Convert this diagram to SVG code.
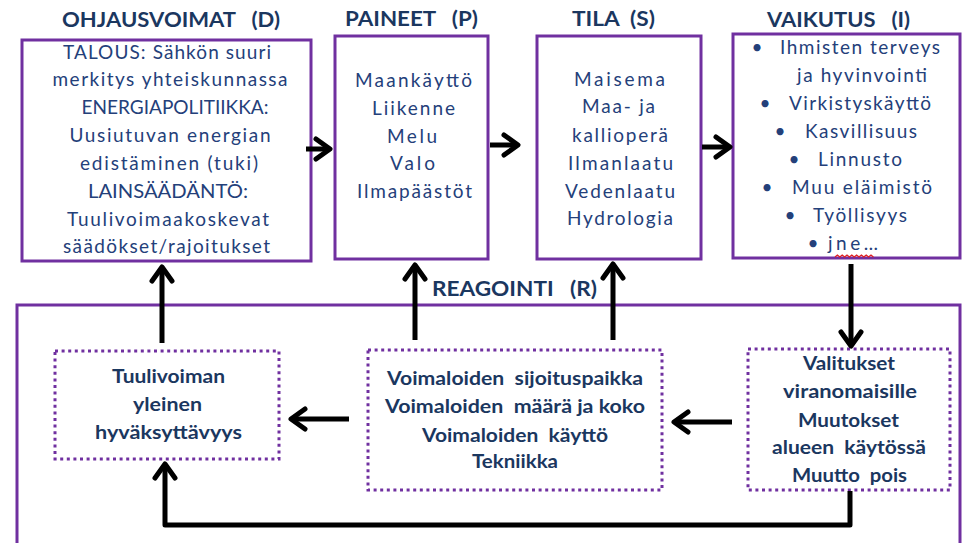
<svg xmlns="http://www.w3.org/2000/svg" width="963" height="543" viewBox="0 0 963 543">
<style>
.box{fill:#fff;stroke:#7030a0;stroke-width:3}
.dot{fill:none;stroke:#7030a0;stroke-width:3;stroke-dasharray:3 3.6}
.t{font-family:Lato,"Liberation Sans",sans-serif;font-size:19px;fill:#24407a;text-anchor:middle}
.s{text-anchor:start}
.ti{font-family:Lato,"Liberation Sans",sans-serif;font-size:21px;font-weight:bold;fill:#1b375f;text-anchor:middle;white-space:pre}
.b{font-family:Lato,"Liberation Sans",sans-serif;font-size:18.5px;font-weight:bold;fill:#1b375f;text-anchor:middle;white-space:pre}
.conn{stroke:#000;stroke-width:5;fill:none;marker-end:url(#ah)}
</style>
<defs>
<marker id="ah" markerUnits="userSpaceOnUse" viewBox="-20 -15 30 30" markerWidth="30" markerHeight="30" refX="0" refY="0" orient="auto">
<path d="M-14,-10 L0,0 L-14,10" fill="none" stroke="#000" stroke-width="5" stroke-linecap="round" stroke-linejoin="round"/>
</marker>
</defs>
<rect width="963" height="543" fill="#fff"/>

<g id="R">
<rect class="box" x="17" y="305" width="943" height="240" fill="none"/>
<text class="ti" x="514.5" y="296" textLength="165" lengthAdjust="spacingAndGlyphs" xml:space="preserve">REAGOINTI   (R)</text>
</g>

<g id="D">
<text class="ti" x="171" y="27" textLength="218" lengthAdjust="spacingAndGlyphs" xml:space="preserve">OHJAUSVOIMAT   (D)</text>
<rect class="box" x="22" y="40" width="289" height="221"/>
<text class="t" x="167" y="58.5" textLength="208">TALOUS: Sähkön suuri</text>
<text class="t" x="170" y="86" textLength="235">merkitys yhteiskunnassa</text>
<text class="t" x="175" y="114" textLength="187" lengthAdjust="spacingAndGlyphs">ENERGIAPOLITIIKKA:</text>
<text class="t" x="170" y="142" textLength="201">Uusiutuvan energian</text>
<text class="t" x="169" y="170" textLength="178">edistäminen (tuki)</text>
<text class="t" x="168" y="198" textLength="160" lengthAdjust="spacingAndGlyphs">LAINSÄÄDÄNTÖ:</text>
<text class="t" x="168" y="226" textLength="202">Tuulivoimaakoskevat</text>
<text class="t" x="166.5" y="253" textLength="207">säädökset/rajoitukset</text>
</g>

<g id="P">
<text class="ti" x="411.5" y="26" textLength="133" lengthAdjust="spacingAndGlyphs" xml:space="preserve">PAINEET   (P)</text>
<rect class="box" x="335" y="36" width="153" height="223"/>
<text class="t" x="413.5" y="87" textLength="117">Maankäyttö</text>
<text class="t" x="413.5" y="115" textLength="83">Liikenne</text>
<text class="t" x="412" y="143" textLength="50">Melu</text>
<text class="t" x="412.5" y="170" textLength="45">Valo</text>
<text class="t" x="414.5" y="198" textLength="115">Ilmapäästöt</text>
</g>

<g id="S">
<text class="ti" x="613.5" y="26" textLength="83" lengthAdjust="spacingAndGlyphs" xml:space="preserve">TILA  (S)</text>
<rect class="box" x="537" y="36" width="164" height="223"/>
<text class="t" x="619.5" y="86" textLength="91">Maisema</text>
<text class="t" x="618.5" y="113" textLength="73" xml:space="preserve">Maa- ja</text>
<text class="t" x="620" y="142" textLength="96">kallioperä</text>
<text class="t" x="620.5" y="170" textLength="105">Ilmanlaatu</text>
<text class="t" x="620" y="198" textLength="110">Vedenlaatu</text>
<text class="t" x="620" y="225" textLength="106">Hydrologia</text>
</g>

<g id="I">
<text class="ti" x="838.5" y="27" textLength="143" lengthAdjust="spacingAndGlyphs" xml:space="preserve">VAIKUTUS   (I)</text>
<rect class="box" x="733" y="34" width="227" height="224"/>
<text class="t" x="757" y="54">•</text>
<text class="t s" x="780" y="54" textLength="160">Ihmisten terveys</text>
<text class="t s" x="797" y="82" textLength="130">ja hyvinvointi</text>
<text class="t" x="765" y="110">•</text>
<text class="t s" x="789" y="110" textLength="142">Virkistyskäyttö</text>
<text class="t" x="780" y="138">•</text>
<text class="t s" x="805" y="138" textLength="112">Kasvillisuus</text>
<text class="t" x="794" y="166">•</text>
<text class="t s" x="818" y="166" textLength="84">Linnusto</text>
<text class="t" x="767" y="194">•</text>
<text class="t s" x="792" y="194" textLength="140">Muu eläimistö</text>
<text class="t" x="790" y="222">•</text>
<text class="t s" x="813" y="222" textLength="94">Työllisyys</text>
<text class="t" x="813" y="250">•</text>
<text class="t s" x="828" y="250" textLength="50">jne…</text>
<path d="M835,257 l2.4,-2 l2.4,2 l2.4,-2 l2.4,2 l2.4,-2 l2.4,2 l2.4,-2 l2.4,2 l2.4,-2 l2.4,2 l2.4,-2 l2.4,2 l2.4,-2 l2.4,2 l2.4,-2 l2.4,2" fill="none" stroke="#e02020" stroke-width="1.3"/>
</g>

<g id="R1">
<rect class="dot" x="55" y="351" width="224" height="108"/>
<text class="b" x="168.5" y="383" textLength="113" lengthAdjust="spacingAndGlyphs">Tuulivoiman</text>
<text class="b" x="167.5" y="411" textLength="69" lengthAdjust="spacingAndGlyphs">yleinen</text>
<text class="b" x="168.5" y="439" textLength="147" lengthAdjust="spacingAndGlyphs">hyväksyttävyys</text>
</g>

<g id="R2">
<rect class="dot" x="368" y="350" width="294" height="140"/>
<text class="b" x="515" y="385" textLength="256" lengthAdjust="spacingAndGlyphs" xml:space="preserve">Voimaloiden  sijoituspaikka</text>
<text class="b" x="515" y="413" textLength="260" lengthAdjust="spacingAndGlyphs" xml:space="preserve">Voimaloiden  määrä ja koko</text>
<text class="b" x="515" y="442" textLength="186" lengthAdjust="spacingAndGlyphs" xml:space="preserve">Voimaloiden  käyttö</text>
<text class="b" x="515" y="468" textLength="86" lengthAdjust="spacingAndGlyphs">Tekniikka</text>
</g>

<g id="R3">
<rect class="dot" x="748" y="349" width="202" height="141"/>
<text class="b" x="849" y="370" textLength="92" lengthAdjust="spacingAndGlyphs">Valitukset</text>
<text class="b" x="850" y="398" textLength="134" lengthAdjust="spacingAndGlyphs">viranomaisille</text>
<text class="b" x="848.5" y="427" textLength="101" lengthAdjust="spacingAndGlyphs">Muutokset</text>
<text class="b" x="849" y="454" textLength="154" lengthAdjust="spacingAndGlyphs" xml:space="preserve">alueen  käytössä</text>
<text class="b" x="849.5" y="482" textLength="115" lengthAdjust="spacingAndGlyphs" xml:space="preserve">Muutto  pois</text>
</g>

<g id="connectors">
<path class="conn" d="M306,149 L330,149"/>
<path class="conn" d="M490,145 L518,145"/>
<path class="conn" d="M702,147 L730,147"/>
<path class="conn" d="M162,343 L162,267"/>
<path class="conn" d="M415,340 L415,265"/>
<path class="conn" d="M613,340 L613,264"/>
<path class="conn" d="M851,264 L851,346"/>
<path class="conn" d="M732,422 L674,422"/>
<path class="conn" d="M349,419 L291,419"/>
<path class="conn" d="M850,491 L850,525 L165,525 L165,464" stroke-linejoin="round"/>
</g>
</svg>
